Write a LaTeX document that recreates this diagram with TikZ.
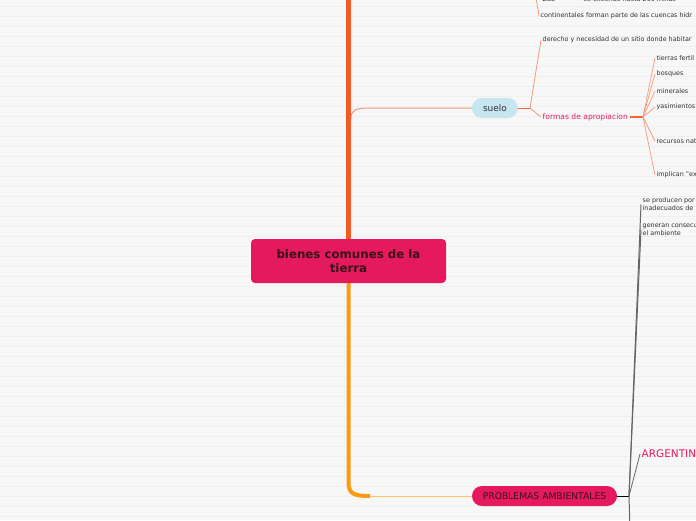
\documentclass[tikz,border=0pt]{standalone}
\usepackage{fontspec}
\setmainfont{DejaVu Sans}
\definecolor{bg}{HTML}{F7F7F7}
\definecolor{stripe}{HTML}{EFEFEF}
\definecolor{crim}{HTML}{E5195E}
\definecolor{trunkA}{HTML}{F15A24}
\definecolor{trunkB}{HTML}{FA9A10}
\definecolor{salmon}{HTML}{F5987A}
\definecolor{deeporange}{HTML}{F0663A}
\definecolor{lorange}{HTML}{FFC46B}
\definecolor{sky}{HTML}{C6E6F0}
\definecolor{txt}{HTML}{333333}
\definecolor{darkred}{HTML}{3A1218}
\definecolor{grayline}{HTML}{666666}
\tikzset{
  central/.style={fill=crim, rounded corners=4pt, minimum width=195pt, minimum height=44pt,
    align=center, text=darkred, font=\fontsize{11.8}{14}\selectfont\bfseries, inner sep=0pt},
  pillblue/.style={fill=sky, rounded corners=10pt, minimum width=46pt, minimum height=20pt,
    text=txt, font=\fontsize{9}{10}\selectfont, inner sep=0pt},
  pillred/.style={fill=crim, rounded corners=10pt, minimum width=145pt, minimum height=20pt,
    text=darkred, font=\fontsize{9.2}{10}\selectfont, inner sep=0pt},
  leaf/.style={anchor=west, text=txt, font=\fontsize{6.4}{8}\selectfont, inner sep=1.5pt, align=left},
  pinkleaf/.style={anchor=west, text=crim, font=\fontsize{7.6}{9}\selectfont, inner sep=1.5pt},
  bigpink/.style={anchor=west, text=crim, font=\fontsize{10.5}{12}\selectfont, inner sep=1.5pt},
  thinsalmon/.style={draw=salmon, line width=0.8pt},
  grayconn/.style={draw=grayline, line width=1pt},
}
\begin{document}
\begin{tikzpicture}[x=1pt,y=-1pt]
\useasboundingbox (0,0) rectangle (696,520);
\clip (0,0) rectangle (696,520);
\fill[bg] (0,0) rectangle (696,520);
\foreach \y in {6,16,...,516} \draw[stripe, line width=1pt] (0,\y) -- (696,\y);

% nodes
\node[central] (root) at (348.5,261) {bienes comunes de la\\tierra};
\node[pillblue] (suelo) at (495,108) {suelo};
\node[pillred] (prob) at (544.5,496) {PROBLEMAS AMBIENTALES};

\coordinate (top) at (348.5,-10);
\coordinate (j1) at (351,119);
\coordinate (js) at (530,108);
\coordinate (jtop) at (530,-40);
\coordinate (jb) at (370,496);
\coordinate (jp) at (629,496);
\coordinate (bot) at (630,530);

% top trunk
\draw[trunkA, line width=5pt] (root.north) -- (top);
\draw[thinsalmon, line width=1pt] (j1) .. controls (351,110) and (355,108) .. (370,108) -- (suelo.west);

% bottom trunk
\draw[trunkB, line width=4pt] (root.south) -- (348.5,482) .. controls (348.5,494) and (354,496) .. (jb);
\draw[lorange, line width=1pt] (jb) -- (prob.west);

% suelo branch
\draw[deeporange, line width=1pt] (suelo.east) -- (js);
\node[leaf] (derecho) at (541,40) {derecho y necesidad de un sitio donde habitar};
\node[pinkleaf] (formas) at (541,117) {formas de apropiacion};
\draw[thinsalmon] (js) -- (derecho.west);
\draw[thinsalmon] (js) -- (formas.west);

% top partial items
\node[leaf] (zee) at (541,-1) {ZEE};
\node[leaf] (extiende) at (582,-1) {se extiende hasta 200 millas};
\node[leaf] (cont) at (539,16) {continentales forman parte de las cuencas hidr};
\draw[thinsalmon] (jtop) -- (cont.west);
\draw[thinsalmon] (jtop) -- (zee.west);
\draw[salmon, line width=1pt] (zee.east) -- (extiende.west);

% formas fan
\coordinate (jf) at (643,117);
\draw[deeporange, line width=2pt] (formas.east) -- (jf);
\node[leaf] (l1) at (655,58) {tierras fertil};
\node[leaf] (l2) at (655,74) {bosques};
\node[leaf] (l3) at (655,91) {minerales};
\node[leaf] (l4) at (655,107) {yasimientos};
\node[leaf] (l5) at (655,141) {recursos nat};
\node[leaf] (l6) at (655,175) {implican "ex};
\foreach \n in {l1,l2,l3,l4,l5,l6} \draw[thinsalmon, line width=0.7pt] (jf) -- (\n.west);

% problemas branch
\draw[black, line width=1pt] (prob.east) -- (jp);
\node[leaf] (p1) at (641,204.5) {se producen por\\inadecuados de};
\node[leaf] (p2) at (641,229.5) {generan consecu\\el ambiente};
\node[bigpink] (arg) at (640,454) {ARGENTIN};
\draw[grayconn] (jp) -- (p1.west);
\draw[grayconn] (jp) -- (p2.west);
\draw[grayconn, line width=0.8pt] (jp) -- (arg.west);
\draw[grayconn] (jp) -- (bot);
\end{tikzpicture}
\end{document}
